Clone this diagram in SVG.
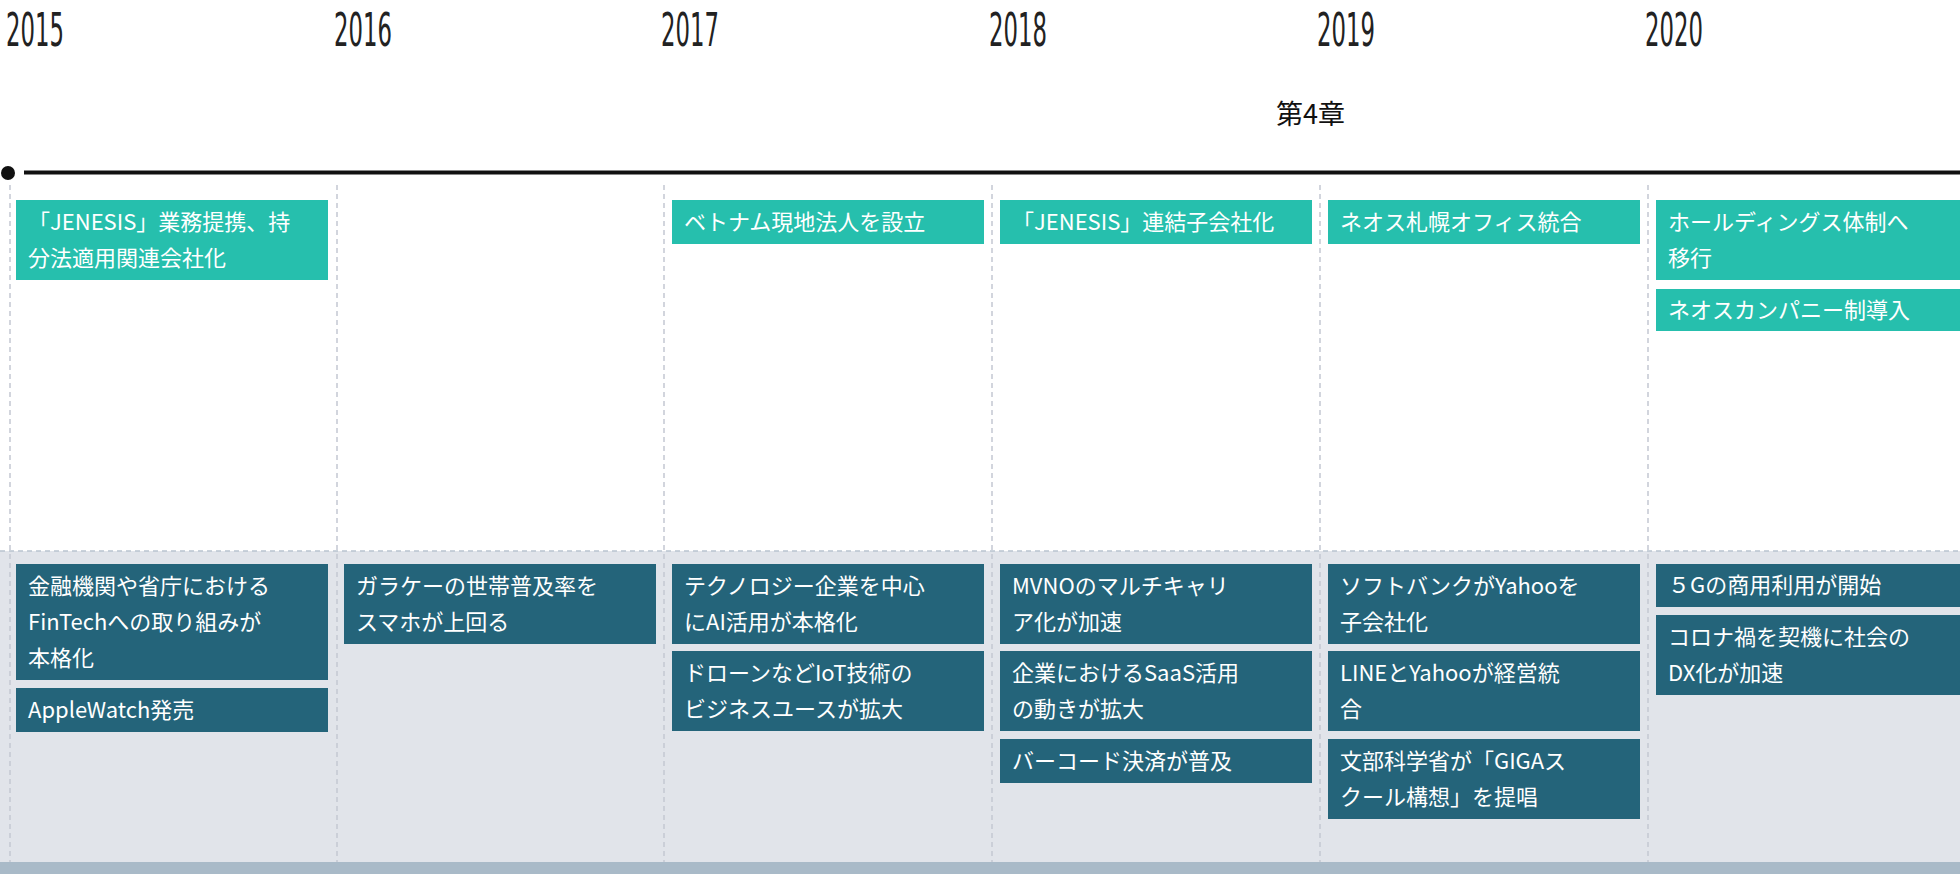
<svg xmlns="http://www.w3.org/2000/svg" width="1960" height="874" viewBox="0 0 1960 874">
<style>
.yr{font-family:"Liberation Sans Narrow","DejaVu Sans Condensed","Liberation Sans",sans-serif;font-size:46px;font-weight:300;fill:#222}
.t{font-family:"Noto Sans CJK JP","Noto Sans",sans-serif;font-size:22px;fill:#fff}
.g{fill:#26bfad}.d{fill:#24647a}
.v{stroke:#c3c8d2;stroke-width:1.5;stroke-dasharray:5 4}
</style>
<rect width="1960" height="874" fill="#fff"/>
<rect x="0" y="551" width="1960" height="311" fill="#e1e4ea"/>
<line x1="0" y1="551" x2="1960" y2="551" stroke="#b9c3cf" stroke-width="1.5" stroke-dasharray="5 4"/>
<rect x="0" y="862" width="1960" height="12" fill="#a9bac8"/>
<g id="years">
<text class="yr" transform="translate(6,46) scale(0.55,1)">2015</text>
<text class="yr" transform="translate(334,46) scale(0.55,1)">2016</text>
<text class="yr" transform="translate(661,46) scale(0.55,1)">2017</text>
<text class="yr" transform="translate(989,46) scale(0.55,1)">2018</text>
<text class="yr" transform="translate(1317,46) scale(0.55,1)">2019</text>
<text class="yr" transform="translate(1645,46) scale(0.55,1)">2020</text>
</g>
<text x="1276" y="124" font-family="Noto Sans CJK JP,sans-serif" font-size="27" fill="#111">第4章</text>
<g id="connectors">
<line class="v" x1="10" y1="185" x2="10" y2="862"/>
<line class="v" x1="337" y1="185" x2="337" y2="862"/>
<line class="v" x1="664" y1="185" x2="664" y2="862"/>
<line class="v" x1="992" y1="185" x2="992" y2="862"/>
<line class="v" x1="1320" y1="185" x2="1320" y2="862"/>
<line class="v" x1="1648" y1="185" x2="1648" y2="862"/>
<line x1="24" y1="172.5" x2="1960" y2="172.5" stroke="#111" stroke-width="4"/>
<circle cx="8" cy="173" r="7" fill="#111"/>
</g>
<g id="n1"><rect class="g" x="16" y="200" width="312" height="80"/><text class="t" x="28" y="230">「JENESIS」業務提携、持</text><text class="t" x="28" y="266">分法適用関連会社化</text></g>
<g id="n2"><rect class="g" x="672" y="200" width="312" height="44"/><text class="t" x="684" y="230">ベトナム現地法人を設立</text></g>
<g id="n3"><rect class="g" x="1000" y="200" width="312" height="44"/><text class="t" x="1012" y="230">「JENESIS」連結子会社化</text></g>
<g id="n4"><rect class="g" x="1328" y="200" width="312" height="44"/><text class="t" x="1340" y="230">ネオス札幌オフィス統合</text></g>
<g id="n5"><rect class="g" x="1656" y="200" width="304" height="80"/><text class="t" x="1668" y="230">ホールディングス体制へ</text><text class="t" x="1668" y="266">移行</text></g>
<g id="n6"><rect class="g" x="1656" y="289" width="304" height="42"/><text class="t" x="1668" y="318">ネオスカンパニー制導入</text></g>
<g id="b1"><rect class="d" x="16" y="564" width="312" height="116"/><text class="t" x="28" y="594">金融機関や省庁における</text><text class="t" x="28" y="630">FinTechへの取り組みが</text><text class="t" x="28" y="666">本格化</text></g>
<g id="b2"><rect class="d" x="16" y="688" width="312" height="44"/><text class="t" x="28" y="718">AppleWatch発売</text></g>
<g id="b3"><rect class="d" x="344" y="564" width="312" height="80"/><text class="t" x="356" y="594">ガラケーの世帯普及率を</text><text class="t" x="356" y="630">スマホが上回る</text></g>
<g id="b4"><rect class="d" x="672" y="564" width="312" height="80"/><text class="t" x="684" y="594">テクノロジー企業を中心</text><text class="t" x="684" y="630">にAI活用が本格化</text></g>
<g id="b5"><rect class="d" x="672" y="651" width="312" height="80"/><text class="t" x="684" y="681">ドローンなどIoT技術の</text><text class="t" x="684" y="717">ビジネスユースが拡大</text></g>
<g id="b6"><rect class="d" x="1000" y="564" width="312" height="80"/><text class="t" x="1012" y="594">MVNOのマルチキャリ</text><text class="t" x="1012" y="630">ア化が加速</text></g>
<g id="b7"><rect class="d" x="1000" y="651" width="312" height="80"/><text class="t" x="1012" y="681">企業におけるSaaS活用</text><text class="t" x="1012" y="717">の動きが拡大</text></g>
<g id="b8"><rect class="d" x="1000" y="739" width="312" height="44"/><text class="t" x="1012" y="769">バーコード決済が普及</text></g>
<g id="b9"><rect class="d" x="1328" y="564" width="312" height="80"/><text class="t" x="1340" y="594">ソフトバンクがYahooを</text><text class="t" x="1340" y="630">子会社化</text></g>
<g id="b10"><rect class="d" x="1328" y="651" width="312" height="80"/><text class="t" x="1340" y="681">LINEとYahooが経営統</text><text class="t" x="1340" y="717">合</text></g>
<g id="b11"><rect class="d" x="1328" y="739" width="312" height="80"/><text class="t" x="1340" y="769">文部科学省が「GIGAス</text><text class="t" x="1340" y="805">クール構想」を提唱</text></g>
<g id="b12"><rect class="d" x="1656" y="564" width="304" height="43"/><text class="t" x="1668" y="593">５Gの商用利用が開始</text></g>
<g id="b13"><rect class="d" x="1656" y="615" width="304" height="80"/><text class="t" x="1668" y="645">コロナ禍を契機に社会の</text><text class="t" x="1668" y="681">DX化が加速</text></g>
</svg>
